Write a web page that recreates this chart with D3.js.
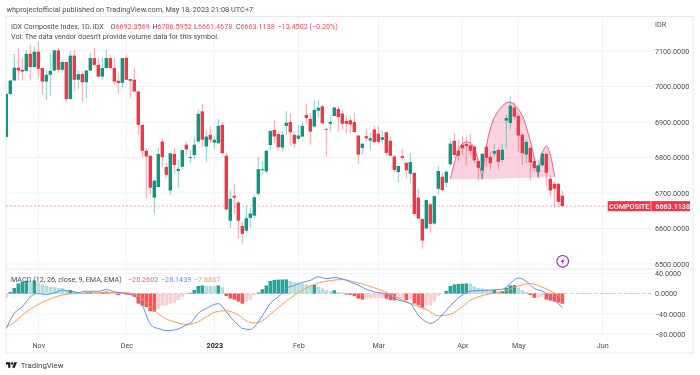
<!DOCTYPE html>
<html lang="en">
<head>
<meta charset="UTF-8">
<title>IDX Composite</title>
<script src="https://d3js.org/d3.v7.min.js"></script>
<style>
    html, body { margin: 0; padding: 0; background: #fff; }
    svg { display: block; filter: blur(0.25px); font-family: Roboto, "Noto Sans", sans-serif; }
    .axis path, .axis line { display: none; }
    .axis text { fill: #4a4d57; font-size: 7.2px; font-family: Roboto, sans-serif; }
</style>
</head>
<body>
<script>
// OHLC per trading day
const opens = [6858,6979,7017,7053,7047,7044,7092,7055,7098,7052,
    7014,7033,7045,7102,7047,7069,6965,7087,7019,7035,
    7012,7045,7080,7061,7028,7052,7080,7052,7016,7010,
    7081,7021,7019,6986,6892,6819,6805,6687,6717,6845,
    6773,6707,6810,6762,6774,6836,6798,6807,6845,6930,
    6831,6864,6842,6840,6892,6805,6622,6692,6673,6607,
    6594,6630,6636,6698,6765,6761,6835,6878,6866,6828,
    6889,6900,6864,6853,6859,6920,6909,6887,6932,6944,
    6881,6895,6917,6937,6924,6903,6905,6900,6862,6827,
    6860,6848,6879,6867,6850,6871,6847,6803,6759,6804,
    6785,6754,6757,6687,6627,6600,6668,6614,6712,6746,
    6729,6781,6847,6819,6836,6838,6834,6831,6790,6763,
    6830,6802,6811,6821,6793,6904,6897,6941,6917,6864,
    6808,6827,6790,6759,6778,6810,6740,6726,6726,6692.36];
const highs = [6979,7017,7092,7109,7081,7103,7118,7113,7125,7053,
    7047,7095,7103,7109,7075,7069,7099,7102,7045,7042,
    7045,7095,7109,7081,7081,7103,7089,7081,7039,7080,
    7089,7021,7053,6986,6892,6827,6805,6737,6827,6855,
    6785,6813,6827,6793,6821,6845,6823,6859,6934,6951,
    6878,6887,6861,6908,6900,6813,6709,6726,6678,6619,
    6664,6657,6695,6801,6790,6821,6875,6906,6873,6875,
    6931,6925,6873,6892,6897,6951,6925,6961,6962,6948,
    6881,6915,6941,6944,6934,6920,6914,6925,6862,6839,
    6881,6871,6889,6889,6875,6873,6859,6807,6776,6824,
    6789,6812,6757,6712,6627,6682,6673,6691,6776,6759,
    6765,6852,6869,6850,6859,6859,6867,6834,6796,6811,
    6834,6817,6838,6826,6838,6920,6972,6958,6925,6869,
    6850,6831,6795,6793,6817,6814,6751,6732,6729,6706.60];
const lows = [6858,6975,7017,7017,7019,7042,7017,7053,7025,6977,
    6962,6972,7044,7039,7039,6955,6965,6986,6993,6956,
    6965,7044,7056,7027,7019,7052,7050,7005,6982,6994,
    7019,6968,6986,6864,6800,6684,6695,6643,6717,6773,
    6743,6695,6754,6715,6768,6807,6784,6796,6844,6830,
    6787,6841,6823,6840,6812,6650,6601,6641,6571,6558,
    6587,6601,6629,6692,6751,6755,6820,6840,6820,6817,
    6864,6834,6827,6850,6857,6895,6836,6887,6914,6896,
    6803,6873,6915,6873,6878,6869,6867,6870,6782,6808,
    6845,6820,6843,6840,6842,6805,6805,6757,6729,6795,
    6742,6728,6636,6627,6544,6599,6588,6610,6697,6706,
    6716,6776,6801,6789,6807,6779,6807,6784,6735,6739,
    6773,6765,6801,6767,6786,6829,6878,6906,6817,6779,
    6784,6735,6760,6742,6774,6718,6690,6659,6662,6661.47];
const closes = [6979,7017,7053,7045,7042,7092,7055,7098,7050,7014,
    7033,7044,7102,7047,7069,6965,7087,7019,7035,7012,
    7045,7080,7061,7028,7052,7080,7052,7014,7010,7080,
    7019,7016,6986,6892,6819,6803,6715,6735,6810,6801,
    6751,6812,6779,6768,6821,6823,6801,6836,6923,6850,
    6859,6850,6850,6889,6812,6654,6684,6687,6622,6585,
    6629,6642,6688,6767,6767,6819,6875,6859,6829,6864,
    6898,6871,6839,6862,6889,6911,6873,6934,6940,6896,
    6879,6900,6941,6914,6895,6895,6893,6872,6808,6839,
    6854,6854,6843,6844,6857,6813,6805,6765,6776,6799,
    6764,6787,6641,6628,6566,6680,6613,6691,6762,6708,
    6760,6839,6807,6805,6826,6832,6819,6792,6771,6811,
    6799,6784,6818,6788,6822,6911,6946,6915,6862,6812,
    6844,6786,6770,6778,6811,6757,6707,6712,6675,6663.11];

// MACD pane
const histValues = [-8,3,11,20,23,25,24,26,22,18,
    15,13,12.5,11.5,11,5,7,5,2,1,
    2,3,2.8,2,3,4,2,1,-3,-0.5,
    -2,-3,-6.5,-20,-24,-27,-35,-36,-31,-24,
    -23,-20,-18,-12.5,-7,-0.5,1.5,7,15,16,
    15.5,15,14.5,16,12,-5,-10,-12,-16,-20,
    -16,-13,-3,2,8.5,16,25,27,27.5,27.8,
    28,25,22,21,20,18,16,17,13,10,
    6.5,4.5,6.5,3,2,-2,-2.5,-5,-10,-12,
    -10,-9.8,-9.6,-9.3,-9,-10,-13,-13.5,-11,-10,
    -13,-11,-20,-23,-28,-23,-23,-16,-4.5,-1.3,
    5,15,18,19,19.5,20,19.8,14,11,10,
    8,6.5,7,4.5,5,11,16,16.5,12,6.5,
    3,-3,-8.5,-8,-6.5,-12,-14,-16,-18,-20.26];
const macdBars = [0,2,4,6,8,10,12,14,16,18,20,23,25,27,30,32,34,36,37,38,
    40,43,45,46,48,50,53,55,56,57,58,59,61,63,64,66,68,70,72,74,
    76,78,80,82,84,86,88,90,92,95,97,99,101,103,105,106,108,110,112,114,
    116,120,124,126,128,130,132,134,136,138,139];
const macdValues = [-69,-39,-26,-6.6,0,-2,1.3,6.6,4.6,2,4.6,4.6,7.9,3.3,0,-5,-23,-61,-67,-69,
    -73.5,-70,-62,-59,-39,-29.5,-20,-36,-46,-55,-62,-69,-71,-56,-44,-20,-6.5,10,16,22,
    26,33,29.5,31.5,29,23,16.4,8.5,3.3,-1.3,-10,-15,-20,-43,-56,-59,-50.5,-33,-16,-3,
    4.6,6.6,8.5,19.7,30.8,24,10,4.6,-6.6,-19.7,-28.14];
const signalBars = [0,2,4,7,10,13,16,20,25,30,33,36,39,42,45,47,50,53,55,58,
    60,62,64,66,69,72,75,78,81,84,87,90,93,96,99,102,105,108,111,114,
    116,118,120,124,128,131,134,137,139];
const signalValues = [-65.6,-57,-42.6,-26,-13.8,-5,-0.7,0.7,2,1.6,-4.6,-26,-46,-56,-61,-59,-46,-35,-34,-42.6,
    -54,-58,-54,-41,-21.6,-3.3,11,21,25.6,27.6,23,16.4,8.5,-1.3,-12.5,-23,-31.5,-44,-40.7,-26,
    -13,-6.6,-2,3.3,15,19.7,12.5,1.3,-7.88];

// head and shoulders drawing, one bars/prices pair per dome
const shapeBars = [[111,112.6,113.8,115.1,116.3,117.6,119],
    [119,120.5,122.6,125.7,128.4,130.9,133],
    [133,133.8,135,135.9,137.1]];
const shapePrices = [[6739,6807,6836,6844,6838,6807,6739],
    [6739,6859,6925,6956,6930,6850,6744],
    [6744,6807,6832,6812,6745]];

// axis ticks
const priceTicks = [7100,7000,6900,6800,6700,6600,6500];
const macdTicks = [40,0,-40,-80];
const monthBars = [8,30,52,73,93,114,128,149];
const monthLabels = ["Nov","Dec","2023","Feb","Mar","Apr","May","Jun"];
const lastPrice = 6663.1138;

const width = 700, height = 375;
const upColor = "#089981", downColor = "#F23645";

const x = d3.scaleLinear().domain([0,149]).range([6.3,602.3]);
const y = d3.scaleLinear().domain([6500,7100]).range([264,51]);
const yMacd = d3.scaleLinear().domain([-80,40]).range([334,273.3]);

const svg = d3.select("body").append("svg").attr("width",width).attr("height",height);
svg.append("rect").attr("width",width).attr("height",height).attr("fill","#fff");

const plotLeft = 6, plotRight = 653, frameRight = 693, frameTop = 16.5, frameBottom = 353, paneGap = 269;

// marks stop at the left edge of the plot
svg.append("clipPath").attr("id","plotClip").append("rect")
    .attr("x",plotLeft).attr("y",frameTop).attr("width",plotRight-plotLeft).attr("height",frameBottom-frameTop);

// grid
const grid = svg.append("g").attr("stroke","#f2f3f7").attr("stroke-width",1);
priceTicks.forEach(t => grid.append("line").attr("x1",plotLeft).attr("x2",plotRight).attr("y1",y(t)).attr("y2",y(t)));
macdTicks.forEach(t => grid.append("line").attr("x1",plotLeft).attr("x2",plotRight).attr("y1",yMacd(t)).attr("y2",yMacd(t)));
monthBars.forEach(b => {
    grid.append("line").attr("x1",x(b)).attr("x2",x(b)).attr("y1",frameTop).attr("y2",paneGap);
    grid.append("line").attr("x1",x(b)).attr("x2",x(b)).attr("y1",paneGap).attr("y2",336);
});

// frame
const frame = svg.append("g").attr("stroke","#e6e8ee").attr("fill","none");
frame.append("rect").attr("x",plotLeft).attr("y",frameTop).attr("width",frameRight-plotLeft).attr("height",frameBottom-frameTop);
frame.append("line").attr("x1",plotLeft).attr("x2",frameRight).attr("y1",paneGap).attr("y2",paneGap);

// head and shoulders
const shapeLine = d3.line().x(d => x(d[0])).y(d => y(d[1])).curve(d3.curveCatmullRom.alpha(0.5));
shapeBars.forEach((bars,k) => {
    const pts = d3.zip(bars,shapePrices[k]);
    svg.append("path").attr("d",shapeLine(pts)+"Z").attr("fill","#e91e63").attr("fill-opacity",0.2).attr("stroke","none");
    svg.append("path").attr("d",shapeLine(pts)).attr("fill","none").attr("stroke","#ec5f8d").attr("stroke-width",1);
});

// last price line
svg.append("line").attr("x1",plotLeft).attr("x2",607).attr("y1",y(lastPrice)).attr("y2",y(lastPrice))
    .attr("stroke",downColor).attr("stroke-opacity",0.45).attr("stroke-dasharray","2,2");

// candles
const candle = svg.append("g").attr("clip-path","url(#plotClip)").selectAll("g").data(opens).enter().append("g");
candle.append("line")
    .attr("x1",(d,i) => x(i)).attr("x2",(d,i) => x(i))
    .attr("y1",(d,i) => y(highs[i])).attr("y2",(d,i) => y(lows[i]))
    .attr("stroke",(d,i) => closes[i] >= d ? upColor : downColor)
    .attr("stroke-opacity",0.45).attr("stroke-width",1);
candle.append("rect")
    .attr("x",(d,i) => x(i)-1.7).attr("width",3.4)
    .attr("y",(d,i) => y(Math.max(d,closes[i])))
    .attr("height",(d,i) => Math.max(1,Math.abs(y(d)-y(closes[i]))))
    .attr("fill",(d,i) => closes[i] >= d ? upColor : downColor);

// macd pane
svg.append("line").attr("x1",plotLeft).attr("x2",plotRight).attr("y1",yMacd(0)).attr("y2",yMacd(0))
    .attr("stroke","#c9ccd3").attr("stroke-dasharray","3,3");
function histColor(v,i) {
    const prev = i > 0 ? histValues[i-1] : v;
    if (v >= 0) return v >= prev ? "#26a69a" : "#b2dfdb";
    return v < prev ? "#ff5252" : "#ffcdd2";
}
svg.append("g").attr("clip-path","url(#plotClip)").selectAll("rect").data(histValues).enter().append("rect")
    .attr("x",(d,i) => x(i)-1.8).attr("width",3.6)
    .attr("y",d => Math.min(yMacd(d),yMacd(0)))
    .attr("height",d => Math.abs(yMacd(d)-yMacd(0)))
    .attr("fill",histColor);

const paneLine = d3.line().x(d => x(d[0])).y(d => yMacd(d[1])).curve(d3.curveMonotoneX);
svg.append("path").attr("d",paneLine(d3.zip(signalBars,signalValues))).attr("fill","none").attr("stroke","#fb9b5a").attr("stroke-width",1);
svg.append("path").attr("d",paneLine(d3.zip(macdBars,macdValues))).attr("fill","none").attr("stroke","#5f8df5").attr("stroke-width",1);

// axes
const minusFmt = f => v => d3.format(f)(v).replace("-","\u2212");
svg.append("g").attr("class","axis").attr("transform","translate(655,0)")
    .call(d3.axisRight(y).tickValues(priceTicks).tickSize(0).tickPadding(0).tickFormat(minusFmt(".4f")));
svg.append("g").attr("class","axis").attr("transform","translate(655,0)")
    .call(d3.axisRight(yMacd).tickValues(macdTicks).tickSize(0).tickPadding(0).tickFormat(minusFmt(".4f")));
const timeAxis = svg.append("g").attr("class","axis").attr("transform","translate(0,342.5)")
    .call(d3.axisBottom(x).tickValues(monthBars).tickSize(0).tickPadding(0).tickFormat((d,i) => monthLabels[i]));
timeAxis.selectAll("text").attr("font-weight",(d,i) => monthLabels[i] === "2023" ? 700 : 400)
    .style("fill",(d,i) => monthLabels[i] === "2023" ? "#222" : "#4a4d57");

// text helpers
function label(xp,yp,str,fill,size) {
    return svg.append("text").attr("x",xp).attr("y",yp).attr("fill",fill).attr("font-size",size||7.2).text(str);
}
const gray = "#4a4d57", red = "#f0525f";

label(6.5,12,"whprojectofficial published on TradingView.com, May 18, 2023 21:08 UTC+7",gray,7.35);
label(655,26.5,"IDR",gray);

label(11,28.5,"IDX Composite Index, 1D, IDX",gray);
label(110.5,28.5,"O",gray); label(115.5,28.5,"6692.3569",red);
label(152.5,28.5,"H",gray); label(157.5,28.5,"6706.5952",red);
label(194,28.5,"L",gray); label(198,28.5,"6661.4678",red);
label(236,28.5,"C",gray); label(240.5,28.5,"6663.1138",red);
label(277.5,28.5,"\u221213.4502 (\u22120.20%)",red);
label(11,38.5,"Vol: The data vendor doesn't provide volume data for this symbol.",gray);

label(11,282,"MACD (12, 26, close, 9, EMA, EMA)",gray);
label(128,282,"\u221220.2602","#f0606a");
label(161,282,"\u221228.1439","#5f8df5");
label(194,282,"\u22127.8837","#fb9b5a");

// last price tag
const tagY = y(lastPrice);
svg.append("rect").attr("x",607.7).attr("y",tagY-5).attr("width",43).attr("height",10).attr("fill",downColor);
svg.append("rect").attr("x",651.3).attr("y",tagY-5).attr("width",38.7).attr("height",10).attr("fill",downColor);
svg.append("text").attr("x",629.2).attr("y",tagY+2.6).attr("text-anchor","middle").attr("fill","#fff").attr("font-size",7.2).attr("font-weight",500).text("COMPOSITE");
svg.append("text").attr("x",655.3).attr("y",tagY+2.6).attr("fill","#fff").attr("font-size",7.2).attr("font-weight",500).text("6663.1138");

// purple bolt marker
const bolt = svg.append("g").attr("transform","translate(562.7,261.3)");
bolt.append("circle").attr("r",5.8).attr("fill","#fff").attr("stroke","#9c27b0").attr("stroke-width",1.1);
bolt.append("path").attr("d","M1.2,-3.4 L-2,0.6 L-0.2,0.6 L-1.2,3.4 L2,-0.7 L0.2,-0.7 Z").attr("fill","#9c27b0");

// footer logo
svg.append("path").attr("transform","translate(6,361) scale(0.31)")
    .attr("d","M14 22H7V11H0V4h14v18zM28 22h-8l7.5-18h8L28 22z").attr("fill","#131722");
svg.append("circle").attr("cx",6+20*0.31).attr("cy",361+8*0.31).attr("r",4*0.31).attr("fill","#131722");
label(20.7,367.5,"TradingView","#3a3d46",7.8);
</script>
</body>
</html>
